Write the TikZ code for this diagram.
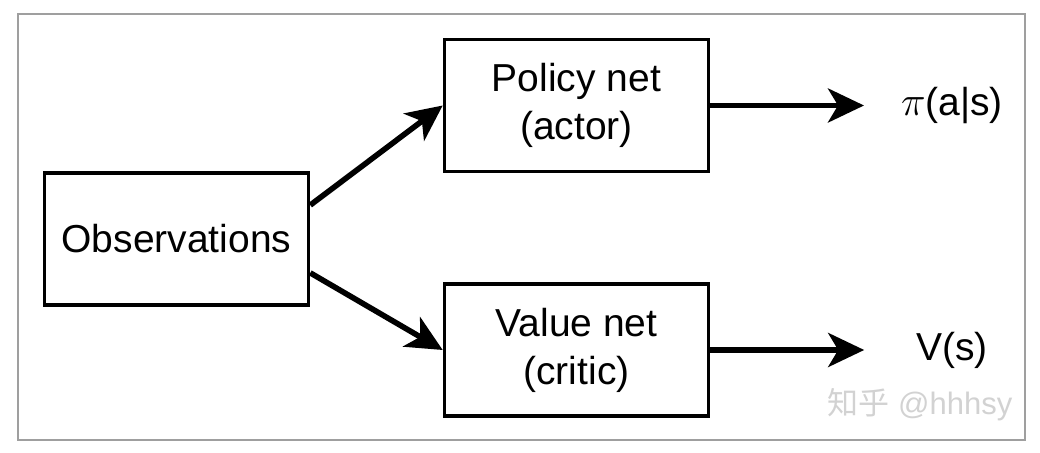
\documentclass[tikz,border=0pt]{standalone}
\usepackage{fontspec}
\setmainfont{Liberation Sans}
\newfontfamily\cjkfont{Noto Sans CJK SC}
\usepackage{tikz}
\usetikzlibrary{arrows.meta,calc,positioning}

\tikzset{
  netbox/.style={draw, line width=1.8pt, minimum width=132pt, minimum height=66pt, align=center},
  flow/.style={-{Stealth[length=18pt,width=17pt,inset=5pt]}, line width=2.8pt},
}

\begin{document}
\begin{tikzpicture}[x=0.5pt,y=-0.5pt,font=\fontsize{19.5}{24}\selectfont]
    \useasboundingbox (0,0) rectangle (1040,453);
    \draw[gray!75, line width=1pt] (18,14) rectangle (1025,440);

    \node[netbox] (obs) at (176.5,239) {Observations};
    \node[netbox] (policy) at (576.5,105.5) {Policy net\\(actor)};
    \node[netbox] (value) at (576.5,350) {Value net\\(critic)};
    \node (pi) at (952,105.5) {$\pi$(a|s)};
    \node (vs) at (952,350) {V(s)};

    \draw[flow] ($(obs.north east)!0.25!(obs.south east)$) -- (policy.west);
    \draw[flow] ($(obs.north east)!0.75!(obs.south east)$) -- (value.west);
    \draw[flow, shorten >=15pt] (policy.east) -- (pi.west);
    \draw[flow, shorten >=22.5pt] (value.east) -- (vs.west);

    % watermark
    \node[text=gray!35, font=\fontsize{15.5}{18}\selectfont] (mark) at (920,405) {{\cjkfont 知乎} @hhhsy};
\end{tikzpicture}
\end{document}
